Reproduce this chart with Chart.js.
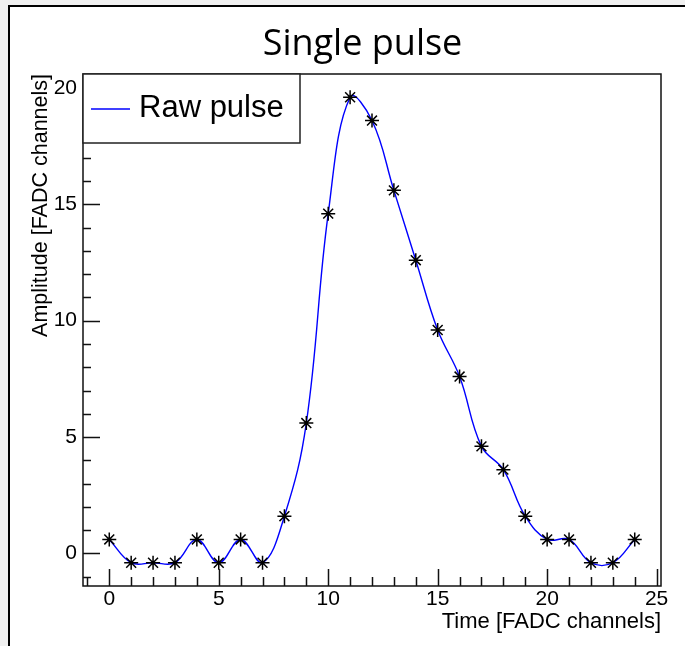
<!DOCTYPE html>
<html>
<head>
<meta charset="utf-8">
<script src="https://cdn.jsdelivr.net/npm/chart.js@4/dist/chart.umd.min.js"></script>
<style>
html,body{margin:0;padding:0;background:#f0f0f0;}
#wrap{width:685px;height:646px;}
</style>
</head>
<body>
<div id="wrap"><canvas id="c" width="685" height="646"></canvas></div>
<script>
// ── data ──
var chTime=[0,1,2,3,4,5,6,7,8,9,10,11,12,13,14,15,16,17,18,19,20,21,22,23,24];
var amp=[0.6,-0.4,-0.4,-0.4,0.6,-0.4,0.6,-0.4,1.6,5.6,14.6,19.6,18.6,15.6,12.6,9.6,7.6,4.6,3.6,1.6,0.6,0.6,-0.4,-0.4,0.6];
var xTicks=[0,5,10,15,20,25];
var yTicks=[0,5,10,15,20];
var titleTxt='Single pulse';
var xTitle='Time [FADC channels]';
var yTitle='Amplitude [FADC channels]';
var seriesName='Raw pulse';

var FONT='"Liberation Sans", Arial, Helvetica, sans-serif';

/* ── page frame: grey strip + black edge ── */
var pageBg={id:'pageBg',beforeDraw:function(ch){
  var c=ch.ctx;c.save();
  c.fillStyle='#f0f0f0';c.fillRect(0,0,ch.width,ch.height);
  c.fillStyle='#fff';c.fillRect(10,7,ch.width-10,ch.height-7);
  c.strokeStyle='#000';c.lineWidth=2;
  c.beginPath();c.moveTo(9,ch.height);c.lineTo(9,6);c.lineTo(ch.width,6);c.stroke();
  c.restore();
}};

/* ── ROOT style frame + inward ticks ── */
var innerTicks={id:'innerTicks',afterDatasetsDraw:function(ch){
  var c=ch.ctx,a=ch.chartArea,xs=ch.scales.x,ys=ch.scales.y,v,p,l;
  c.save();c.strokeStyle='#111';c.lineWidth=1.5;
  c.strokeRect(a.left,a.top,a.right-a.left,a.bottom-a.top);
  c.beginPath();
  for(v=Math.ceil(xs.min);v<=xs.max;v++){p=Math.round(xs.getPixelForValue(v))+.5;l=v%5===0?17:9;c.moveTo(p,a.bottom);c.lineTo(p,a.bottom-l);}
  for(v=Math.ceil(ys.min);v<=ys.max;v++){p=Math.round(ys.getPixelForValue(v))+.5;l=v%5===0?17:8;c.moveTo(a.left,p);c.lineTo(a.left+l,p);}
  c.stroke();c.restore();
}};

/* ── legend box top-left in the frame ── */
var rootLegend={id:'rootLegend',afterDraw:function(ch){
  var c=ch.ctx,a=ch.chartArea,ds=ch.data.datasets[0];
  var x0=a.left,y0=a.top,w=217,h=69;
  c.save();
  c.fillStyle='#fff';c.fillRect(x0,y0,w,h);
  c.strokeStyle='#222';c.lineWidth=1.5;c.strokeRect(x0,y0,w,h);
  c.strokeStyle=ds.borderColor;c.lineWidth=1.3;
  c.beginPath();c.moveTo(x0+8,y0+35);c.lineTo(x0+47,y0+35);c.stroke();
  c.fillStyle='#000';c.font='31px '+FONT;c.textBaseline='alphabetic';c.textAlign='left';
  c.fillText(ds.label,x0+56,y0+43);
  c.restore();
}};

/* ── slide title ── */
var slideTitle={id:'slideTitle',afterDraw:function(ch){
  var c=ch.ctx;c.save();
  c.fillStyle='#000';c.font='36px "Open Sans", "Noto Sans", sans-serif';
  c.textAlign='center';c.textBaseline='alphabetic';
  c.fillText(titleTxt,362.5,55);
  c.restore();
}};

var pts=chTime.map(function(t,i){return{x:t,y:amp[i]};});

new Chart(document.getElementById('c'),{
  type:'line',
  data:{datasets:[{
    label:seriesName,data:pts,
    borderColor:'#0000ff',borderWidth:1.4,tension:0.4,fill:false,
    pointStyle:'star',pointRadius:7,pointBorderColor:'#000',pointBackgroundColor:'#000',pointBorderWidth:1.5,
    clip:false
  }]},
  options:{
    responsive:false,animation:false,devicePixelRatio:1,
    layout:{padding:{top:74,right:24,bottom:0,left:0}},
    plugins:{legend:{display:false},tooltip:{enabled:false},title:{display:false}},
    scales:{
      x:{type:'linear',min:-1.2,max:25.2,
        afterBuildTicks:function(s){s.ticks=xTicks.map(function(v){return{value:v};});},
        afterFit:function(s){s.height=60;},
        grid:{display:false,drawTicks:false,tickLength:0},border:{display:false},
        ticks:{color:'#000',font:{family:FONT,size:21},padding:1,maxRotation:0,autoSkip:false},
        title:{display:true,text:xTitle,align:'end',color:'#000',font:{family:FONT,size:22},padding:{top:0,bottom:11}}
      },
      y:{type:'linear',min:-1.4,max:20.6,
        afterBuildTicks:function(s){s.ticks=yTicks.map(function(v){return{value:v};});},
        afterFit:function(s){s.width=83;},
        grid:{display:false,drawTicks:false,tickLength:0},border:{display:false},
        ticks:{color:'#000',font:{family:FONT,size:21},padding:6,autoSkip:false},
        title:{display:true,text:yTitle,align:'end',color:'#000',font:{family:FONT,size:21.5},padding:{top:28,bottom:0}}
      }
    }
  },
  plugins:[pageBg,innerTicks,rootLegend,slideTitle]
});
</script>
</body>
</html>
